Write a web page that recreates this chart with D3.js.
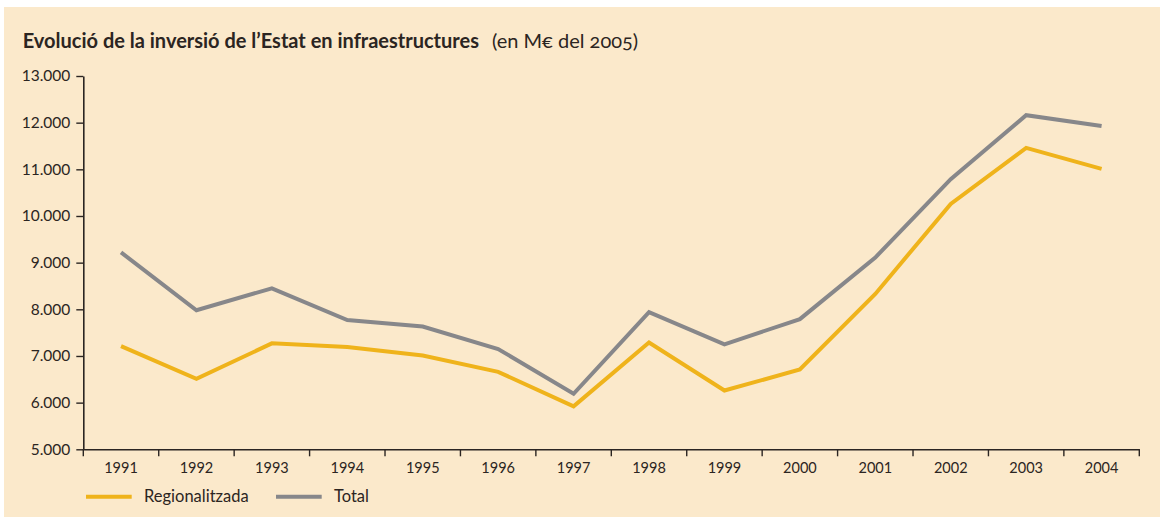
<!DOCTYPE html>
<html>
<head>
<meta charset="utf-8">
<script src="https://cdn.jsdelivr.net/npm/d3@7"></script>
<style>
  html, body { margin: 0; padding: 0; background: #fff; }
  svg { display: block; font-family: Lato, "Open Sans", sans-serif; }
</style>
</head>
<body>
<div id="chart"></div>
<script>
// data (M€ del 2005)
const years = ['1991', '1992', '1993', '1994', '1995', '1996', '1997',
  '1998', '1999', '2000', '2001', '2002', '2003', '2004']
const regionalitzada = [7210, 6510, 7270, 7190, 7010, 6660, 5920,
  7290, 6260, 6710, 8330, 10260, 11460, 11010]
const total = [9220, 7980, 8450, 7770, 7630, 7150, 6190,
  7940, 7250, 7790, 9110, 10790, 12160, 11930]
const yTicks = [5000, 6000, 7000, 8000, 9000, 10000, 11000, 12000, 13000]
const seriesNames = ['Regionalitzada', 'Total']

const width = 1160
const height = 518
const margin = { top: 76, right: 20.7, bottom: 68.7, left: 83.3 }
const colors = { Regionalitzada: '#efb31b', Total: '#87878a' }
const ink = '#2b2522'

const locale = d3.formatLocale({ decimal: ',', thousands: '.', grouping: [3], currency: ['', '€'] })
const fmt = locale.format(',')

const svg = d3.select('#chart').append('svg')
  .attr('width', width)
  .attr('height', height)

// panel
svg.append('rect')
  .attr('x', 4).attr('y', 7)
  .attr('width', width - 4).attr('height', 510)
  .attr('fill', '#fbe9cb')

// title
const title = svg.append('text')
  .attr('x', 22.7).attr('y', 48)
  .attr('fill', ink)
title.append('tspan')
  .attr('font-size', '20px')
  .attr('font-weight', 'bold')
  .text('Evolució de la inversió de l’Estat en infraestructures')
title.append('tspan')
  .attr('dx', 13)
  .attr('font-size', '20px')
  .style('font-variant-numeric', 'oldstyle-nums')
  .text('(en M€ del 2005)')

// scales
const x = d3.scaleBand()
  .domain(years)
  .range([margin.left, width - margin.right])
  .padding(0)

const y = d3.scaleLinear()
  .domain([5000, 13000])
  .range([height - margin.bottom, margin.top])

const cx = d => x(d) + x.bandwidth() / 2

// axes
const yAxis = svg.append('g')
  .attr('transform', `translate(${margin.left}, 0)`)
  .call(d3.axisLeft(y).tickValues(yTicks).tickFormat(fmt).tickSize(7).tickSizeOuter(0).tickPadding(6))
yAxis.select('.domain').attr('stroke', ink).attr('stroke-width', 1.6)
yAxis.selectAll('.tick line').attr('stroke', ink).attr('stroke-width', 1.4)
yAxis.selectAll('text').attr('fill', ink).attr('font-size', '15.5px').attr('font-family', 'Lato, "Open Sans", sans-serif')

const xAxis = svg.append('g')
  .attr('transform', `translate(0, ${height - margin.bottom})`)
  .call(d3.axisBottom(x).tickSize(0).tickSizeOuter(0).tickPadding(13))
xAxis.select('.domain').attr('stroke', ink).attr('stroke-width', 1.6)
xAxis.selectAll('text').attr('fill', ink).attr('font-size', '14.5px').attr('font-family', 'Lato, "Open Sans", sans-serif')

// ticks between the years
const bounds = years.map(d => x(d)).concat([x.range()[1]])
xAxis.selectAll('.bound')
  .data(bounds)
  .enter()
  .append('line')
  .attr('class', 'bound')
  .attr('x1', d => d).attr('x2', d => d)
  .attr('y1', 0).attr('y2', 7)
  .attr('stroke', ink)
  .attr('stroke-width', 1.4)

// lines
const series = [
  { name: 'Regionalitzada', values: regionalitzada },
  { name: 'Total', values: total }
]
const line = d3.line()
  .x((v, i) => cx(years[i]))
  .y(v => y(v))

svg.selectAll('.series')
  .data(series)
  .enter()
  .append('path')
  .attr('class', 'series')
  .attr('fill', 'none')
  .attr('stroke', d => colors[d.name])
  .attr('stroke-width', 4)
  .attr('stroke-linejoin', 'miter')
  .attr('d', d => line(d.values))

// legend
const legendPos = [86, 276]
const legend = svg.selectAll('.legend')
  .data(seriesNames)
  .enter()
  .append('g')
  .attr('class', 'legend')
  .attr('transform', (d, i) => `translate(${legendPos[i]}, 496.7)`)
legend.append('line')
  .attr('x1', 0).attr('x2', 45.7)
  .attr('stroke', d => colors[d])
  .attr('stroke-width', 4)
legend.append('text')
  .attr('x', 58)
  .attr('dy', '0.35em')
  .attr('fill', ink)
  .attr('font-size', '16.5px')
  .text(d => d)
</script>
</body>
</html>
